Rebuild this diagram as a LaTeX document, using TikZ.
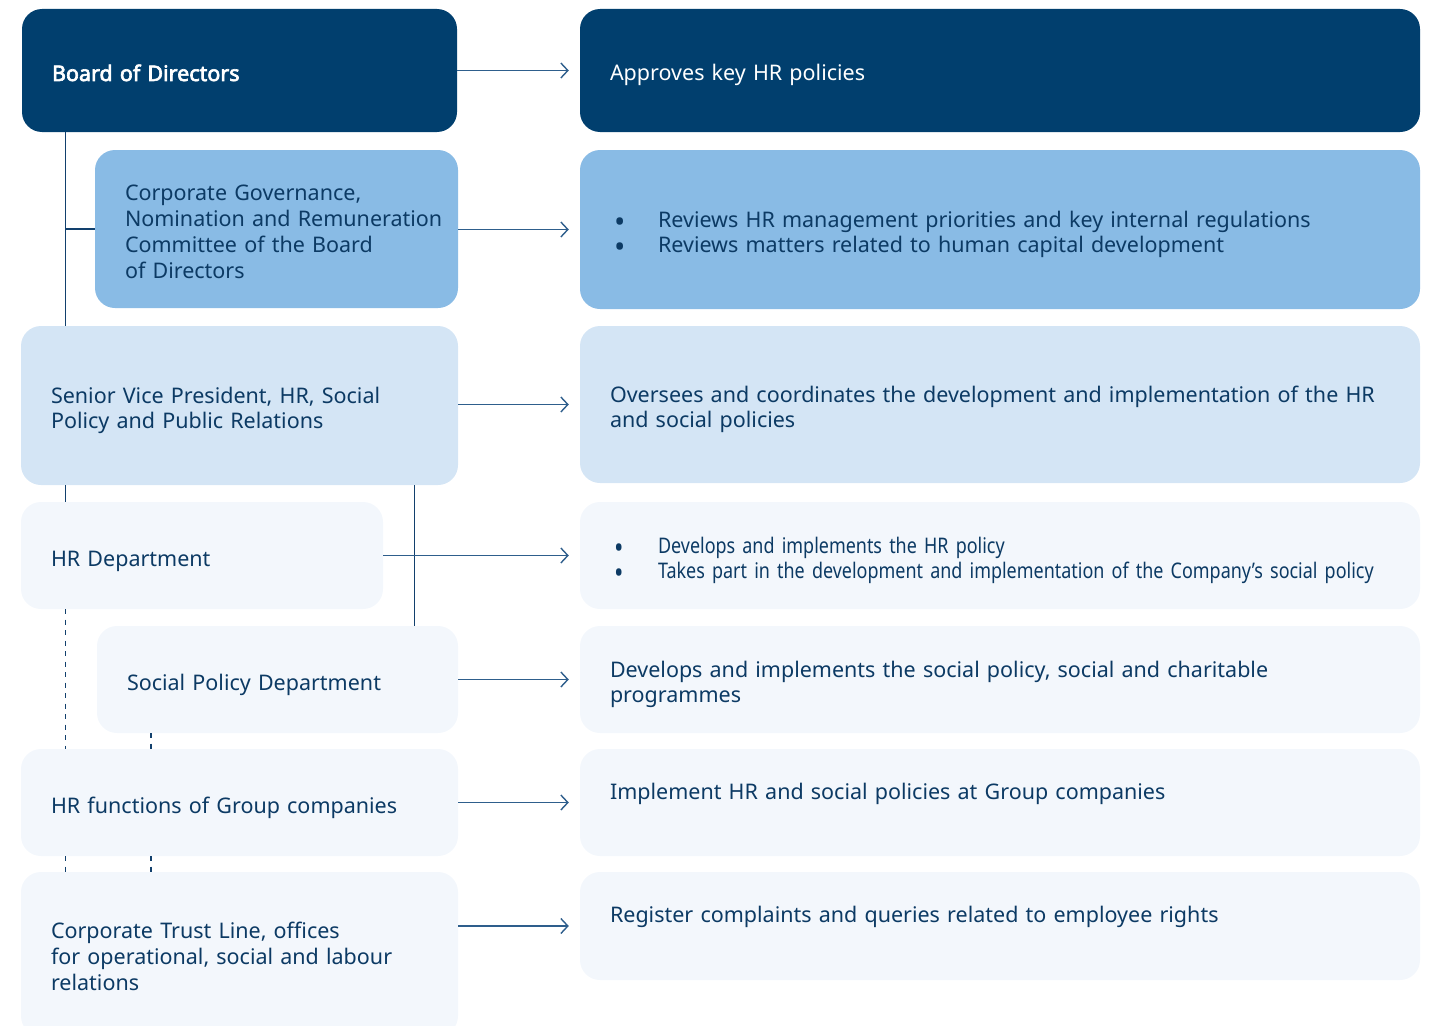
\documentclass[tikz,border=0pt]{standalone}
\usepackage{fontspec}
\setmainfont{Noto Sans}
\newfontfamily\narrowfont{Noto Sans}[FakeStretch=0.835]
\newfontfamily\headfont{Noto Sans}[FakeBold=3]
\usepackage{xcolor}
\usetikzlibrary{arrows.meta}

\definecolor{navy}{HTML}{013F6E}
\definecolor{midblue}{HTML}{89BBE5}
\definecolor{paleblue}{HTML}{D4E5F5}
\definecolor{ghost}{HTML}{F3F7FC}
\definecolor{inkblue}{HTML}{0C3A64}
\definecolor{linkblue}{HTML}{12406D}
\definecolor{arrowblue}{HTML}{2E5E8C}

\newcommand{\bul}{\hspace*{4pt}\makebox[44pt][l]{\raisebox{-5pt}[0pt][0pt]{\scalebox{1.4}{\textbullet}}}}

\begin{document}
\begin{tikzpicture}[x=1pt, y=-1pt,
    box/.style={rounded corners=20pt, inner xsep=30pt, inner ysep=0pt, align=left,
      text=inkblue, font=\fontsize{21.5}{25.7}\selectfont,
      execute at begin node={\rule{0pt}{27pt}},
      execute at end node={\rule[-6pt]{0pt}{6pt}}},
    lbox/.style n args={3}{box, fill=#3, text width=#1pt-60pt, minimum height=#2pt},
    arr/.style={draw=arrowblue, line width=1.4pt, shorten >=11pt,
      -{Straight Barb[length=7pt, width=15pt, line width=1.4pt]}},
    link/.style={draw=linkblue, line width=1.4pt},
    dashlink/.style={link, dash pattern=on 5pt off 5.5pt}]
  \useasboundingbox (0,0) rectangle (1434,1025);

  \node [lbox={435}{123}{navy}, text=white] (board) at (239.5,70.5) {\headfont Board of Directors};
  \node [lbox={363}{158}{midblue}] (cgnrc) at (276.5,229) {Corporate Governance,\\ \mbox{Nomination and Remuneration}\\ Committee of the Board\\ of Directors};
  \node [lbox={437}{159}{paleblue}] (svp) at (239.5,405.5) {Senior Vice President, HR, Social\\ Policy and Public Relations};
  \node [lbox={362}{107}{ghost}] (hrdep) at (202,555.5) {HR Department};
  \node [lbox={361}{107}{ghost}] (socdep) at (277.5,679.5) {Social Policy Department};
  \node [lbox={437}{107}{ghost}] (hrfun) at (239.5,802.5) {HR functions of Group companies};
  \node [lbox={437}{164}{ghost}] (trust) at (239.5,954) {Corporate Trust Line, offices\\ for operational, social and labour\\ relations};

  \node [lbox={840}{123}{navy}, text=white] (r1) at (1000,70.5) {Approves key HR policies};
  \node [lbox={840}{159}{midblue}] (r2) at (1000,229.5) {\bul Reviews HR management priorities and key internal regulations\\ \bul Reviews matters related to human capital development};
  \node [lbox={840}{157}{paleblue}] (r3) at (1000,404.5) {Oversees and coordinates the development and implementation of the HR\\ and social policies};
  \node [lbox={840}{107}{ghost}] (r4) at (1000,555.5) {\narrowfont\bul Develops and implements the HR policy\\ \bul \mbox{Takes part in the development and implementation of the Company’s social policy}};
  \node [lbox={840}{107}{ghost}] (r5) at (1000,679.5) {Develops and implements the social policy, social and charitable\\ programmes};
  \node [lbox={840}{107}{ghost}] (r6) at (1000,802.5) {\raisebox{13.5pt}[\height][\depth]{Implement HR and social policies at Group companies}};
  \node [lbox={840}{108}{ghost}] (r7) at (1000,926) {\raisebox{14pt}[\height][\depth]{Register complaints and queries related to employee rights}};

  \coordinate (sp) at (65.5,0);
  \coordinate (sq) at (151,0);
  \coordinate (sr) at (414.5,0);
  \draw [link] (sp |- board.south) -- (sp |- svp.north);
  \draw [link] (sp |- cgnrc.west) -- (cgnrc.west);
  \draw [link] (sp |- svp.south) -- (sp |- hrdep.north);
  \draw [link] (sr |- svp.south) -- (sr |- socdep.north);
  \draw [dashlink] (sp |- hrdep.south) -- (sp |- hrfun.north);
  \draw [dashlink] (sp |- hrfun.south) -- (sp |- trust.north);
  \draw [dashlink] (sq |- socdep.south) -- (sq |- hrfun.north);
  \draw [dashlink] (sq |- hrfun.south) -- (sq |- trust.north);

  \foreach \a/\b in {board/r1, cgnrc/r2, svp/r3, hrdep/r4, socdep/r5, hrfun/r6, trust/r7}
    \draw [arr] (\b.west -| \a.east) -- (\b.west);
\end{tikzpicture}
\end{document}
